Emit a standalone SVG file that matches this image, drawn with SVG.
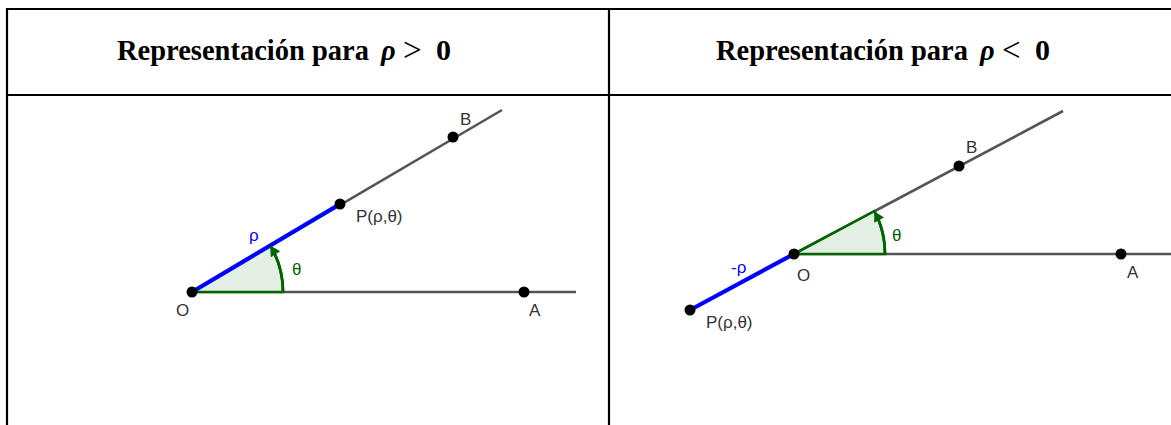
<svg xmlns="http://www.w3.org/2000/svg" width="1171" height="425" viewBox="0 0 1171 425">
<style>
.tbl{stroke:#000;stroke-width:2.2;fill:none}
.hd{font-family:"Liberation Serif","Times New Roman",serif;font-weight:bold;font-size:28.5px;fill:#000}
.rho{font-style:italic}
.op{font-weight:normal;font-size:33px}
.zero{font-size:30px}
.gl{stroke:#555;stroke-width:2.6;fill:none;stroke-linecap:butt}
.bl{stroke:#0000ff;stroke-width:4.2;fill:none}
.sec{fill:#e3efe3;stroke:#006400;stroke-width:2.6;stroke-linejoin:miter}
.arc{fill:none;stroke:#006400;stroke-width:2.8}
.ah{fill:#006400}
.pt{fill:#000}
.lb{font-family:"Liberation Sans",Arial,sans-serif;font-size:17px;fill:#333}
.lbb{font-family:"Liberation Sans",Arial,sans-serif;font-size:17px;fill:#0000ff}
.lbg{font-family:"Liberation Sans",Arial,sans-serif;font-size:17px;fill:#006400}
</style>
<rect width="1171" height="425" fill="#fff"/>
<g id="table">
<line class="tbl" x1="7" y1="9" x2="1171" y2="9"/>
<line class="tbl" x1="7" y1="95" x2="1171" y2="95"/>
<line class="tbl" x1="7" y1="8" x2="7" y2="425"/>
<line class="tbl" x1="609" y1="8" x2="609" y2="425"/>
</g>
<g id="header-left">
<text class="hd" y="60"><tspan x="117">Representación para</tspan><tspan class="rho" x="381">ρ</tspan><tspan class="op" x="403" dy="1">&gt;</tspan><tspan class="zero" x="436" dy="-1">0</tspan></text>
</g>
<g id="header-right">
<text class="hd" y="60"><tspan x="716">Representación para</tspan><tspan class="rho" x="980">ρ</tspan><tspan class="op" x="1002" dy="1">&lt;</tspan><tspan class="zero" x="1035" dy="-1">0</tspan></text>
</g>
<g id="connectors">
<line class="gl" x1="192" y1="292" x2="576" y2="292"/>
<line class="gl" x1="192" y1="292" x2="502" y2="110"/>
<path class="sec" d="M192,292 L283,292 A91,91 0 0 0 270.2,245.5 Z"/>
<line class="bl" x1="192" y1="292" x2="340" y2="204"/>
<line class="gl" x1="794" y1="254" x2="1171" y2="254"/>
<line class="gl" x1="794" y1="254" x2="1063" y2="111"/>
<path class="sec" d="M794,254 L885,254 A91,91 0 0 0 874.3,211.2 Z"/>
<line class="bl" x1="690" y1="310" x2="794" y2="254"/>
</g>
<g id="angle-left">
<path class="arc" d="M283,292 A91,91 0 0 0 273.5,251"/>
<polygon class="ah" points="270.2,245.5 280.2,251.2 270.8,257.2"/>
<text class="lbg" x="292" y="275">θ</text>
</g>
<g id="angle-right">
<path class="arc" d="M885,254 A91,91 0 0 0 877.5,217"/>
<polygon class="ah" points="874.3,211.2 884,217.6 874.2,222.8"/>
<text class="lbg" x="892" y="241">θ</text>
</g>
<g id="node-O-left"><circle class="pt" cx="192" cy="292" r="5.5"/><text class="lb" x="176" y="316">O</text></g>
<g id="node-P-left"><circle class="pt" cx="340" cy="204" r="5.5"/><text class="lb" x="356" y="222">P(ρ,θ)</text></g>
<g id="node-B-left"><circle class="pt" cx="453" cy="137" r="5.5"/><text class="lb" x="460" y="125">B</text></g>
<g id="node-A-left"><circle class="pt" cx="524" cy="292" r="5.5"/><text class="lb" x="529" y="316">A</text></g>
<text class="lbb" x="249" y="241">ρ</text>
<g id="node-O-right"><circle class="pt" cx="794" cy="254" r="5.5"/><text class="lb" x="797" y="281">O</text></g>
<g id="node-P-right"><circle class="pt" cx="690" cy="310" r="5.5"/><text class="lb" x="706" y="328">P(ρ,θ)</text></g>
<g id="node-B-right"><circle class="pt" cx="959" cy="166" r="5.5"/><text class="lb" x="966" y="153">B</text></g>
<g id="node-A-right"><circle class="pt" cx="1121" cy="254" r="5.5"/><text class="lb" x="1127" y="278">A</text></g>
<text class="lbb" x="731" y="273">-ρ</text>
</svg>
